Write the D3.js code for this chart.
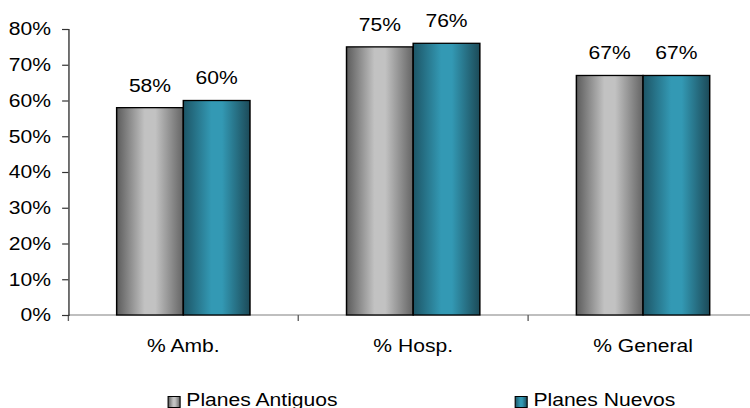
<!DOCTYPE html>
<html>
<head>
<meta charset="utf-8">
<script src="https://cdn.jsdelivr.net/npm/d3@7"></script>
<style>
  body { margin: 0; background: #fff; }
  svg { display: block; }
  text { font-family: "Liberation Sans", Arial, sans-serif; fill: #000; }
</style>
</head>
<body>
<div id="chart"></div>
<script>
// Chart data
var categories = ["% Amb.", "% Hosp.", "% General"];
var seriesNames = ["Planes Antiguos", "Planes Nuevos"];
var antiguos = [0.58, 0.75, 0.67];
var nuevos = [0.60, 0.76, 0.67];
var yTicks = [0, 0.1, 0.2, 0.3, 0.4, 0.5, 0.6, 0.7, 0.8];

// Chart details (the picture is a bit stretched sideways, so draw in a narrower box)
var svgWidth = 750;
var svgHeight = 408;
var boxWidth = 658;
var fontSize = "18.5px";

var margin = { top: 29, left: 60, bottom: 315, right: 665 };

var svg = d3.select("#chart").append("svg")
  .attr("width", svgWidth)
  .attr("height", svgHeight)
  .attr("viewBox", `0 0 ${boxWidth} ${svgHeight}`)
  .attr("preserveAspectRatio", "none");

// Gradients for the cylinder look
var defs = svg.append("defs");
var grads = [
  { id: "gGray", dark1: "#5c5c5c", light: "#c2c2c2", dark2: "#646464" },
  { id: "gTeal", dark1: "#1d5566", light: "#3399b4", dark2: "#1c4a58" }
];
grads.forEach(function(g) {
  var lg = defs.append("linearGradient")
    .attr("id", g.id)
    .attr("x1", "0%").attr("x2", "100%")
    .attr("y1", "0%").attr("y2", "0%");
  lg.append("stop").attr("offset", "0%").attr("stop-color", g.dark1);
  lg.append("stop").attr("offset", "42%").attr("stop-color", g.light);
  lg.append("stop").attr("offset", "58%").attr("stop-color", g.light);
  lg.append("stop").attr("offset", "100%").attr("stop-color", g.dark2);
});
var fills = ["url(#gGray)", "url(#gTeal)"];

// Scales
var x0 = d3.scaleBand()
  .domain(categories)
  .range([margin.left, margin.right])
  .paddingInner(0.42)
  .paddingOuter(0.21);

var x1 = d3.scaleBand()
  .domain(seriesNames)
  .range([0, x0.bandwidth()]);

var y = d3.scaleLinear()
  .domain([0, 0.8])
  .range([margin.bottom, margin.top]);

// X axis line and ticks between categories
svg.append("line")
  .attr("x1", margin.left).attr("x2", boxWidth)
  .attr("y1", y(0)).attr("y2", y(0))
  .attr("stroke", "#808080")
  .attr("stroke-width", 1.2);

var step = x0.step();
var bounds = d3.range(categories.length + 1).map(i => margin.left + i * step);
svg.selectAll(".xtick")
  .data(bounds)
  .enter()
  .append("line")
  .attr("x1", d => d).attr("x2", d => d)
  .attr("y1", y(0)).attr("y2", y(0) + 6)
  .attr("stroke", "#606060")
  .attr("stroke-width", 1.2);

svg.selectAll(".xlabel")
  .data(categories)
  .enter()
  .append("text")
  .attr("x", d => x0(d) + x0.bandwidth() / 2)
  .attr("y", 352.5)
  .attr("text-anchor", "middle")
  .attr("font-size", fontSize)
  .text(d => d);

// Y axis
var leftAxis = d3.axisLeft(y)
  .tickValues(yTicks)
  .tickSize(5.5)
  .tickPadding(9.8)
  .tickFormat(d3.format(".0%"));

var yAxis = svg.append("g")
  .attr("transform", `translate(${margin.left}, 0)`)
  .call(leftAxis);
yAxis.select(".domain").attr("stroke", "#333").attr("stroke-width", 1.2);
yAxis.selectAll(".tick line").attr("stroke", "#333").attr("stroke-width", 1.2);
yAxis.selectAll(".tick text")
  .attr("font-family", "Liberation Sans, Arial, sans-serif")
  .attr("font-size", fontSize)
  .attr("fill", "#000");

// Bars
var rows = categories.map((c, i) => ({ cat: c, values: [antiguos[i], nuevos[i]] }));

var groups = svg.selectAll(".grp")
  .data(rows)
  .enter()
  .append("g")
  .attr("transform", d => `translate(${x0(d.cat)}, 0)`);

groups.selectAll("rect")
  .data(d => d.values.map((v, j) => ({ name: seriesNames[j], v: v, j: j })))
  .enter()
  .append("rect")
  .attr("x", d => x1(d.name))
  .attr("y", d => y(d.v))
  .attr("width", x1.bandwidth())
  .attr("height", d => y(0) - y(d.v))
  .attr("fill", d => fills[d.j])
  .attr("stroke", "#000")
  .attr("stroke-width", 1.3);

groups.selectAll(".val")
  .data(d => d.values.map((v, j) => ({ name: seriesNames[j], v: v })))
  .enter()
  .append("text")
  .attr("x", d => x1(d.name) + x1.bandwidth() / 2)
  .attr("y", d => y(d.v) - 16)
  .attr("text-anchor", "middle")
  .attr("font-size", fontSize)
  .text(d => d3.format(".0%")(d.v));

// Legend
var legendX = [147.5, 452];
var legend = svg.selectAll(".legend")
  .data(seriesNames)
  .enter()
  .append("g")
  .attr("transform", (d, i) => `translate(${legendX[i]}, 396.5)`);

legend.append("rect")
  .attr("width", 10.5)
  .attr("height", 11)
  .attr("fill", (d, i) => fills[i])
  .attr("stroke", "#000")
  .attr("stroke-width", 1);

legend.append("text")
  .attr("x", 16)
  .attr("y", 9.5)
  .attr("font-size", fontSize)
  .text(d => d);
</script>
</body>
</html>
